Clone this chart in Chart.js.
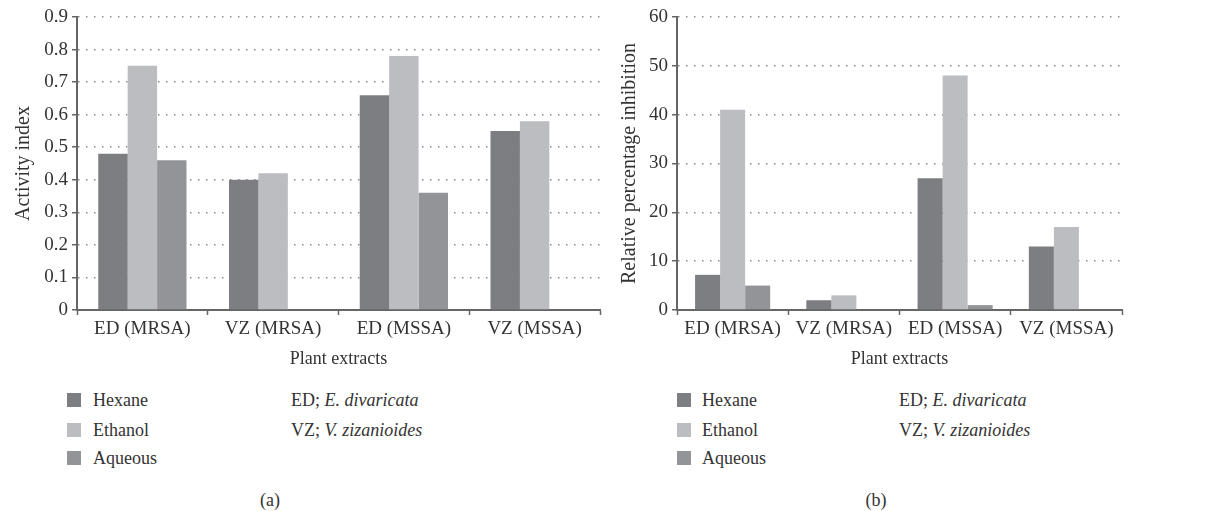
<!DOCTYPE html>
<html>
<head>
<meta charset="utf-8">
<script src="https://cdn.jsdelivr.net/npm/chart.js@4.4.0/dist/chart.umd.min.js"></script>
<style>
  body { margin: 0; background: #fff; width: 1212px; height: 511px; position: relative; overflow: hidden;
         font-family: "Liberation Serif", "DejaVu Serif", serif; color: #333; }
  .wrap { position: absolute; top: 0; width: 606px; height: 370px; }
  .legend { position: absolute; font-size: 18px; }
  .row { position: absolute; white-space: nowrap; line-height: 20px; }
  .box { position: absolute; width: 14px; height: 14px; }
  .caption { position: absolute; top: 490px; font-size: 18px; transform: translateX(-50%); }
</style>
</head>
<body>
<div class="wrap" style="left:0"><canvas id="activityChart"></canvas></div>
<div class="wrap" style="left:606px"><canvas id="inhibitionChart"></canvas></div>
<div id="legendA" class="legend"></div>
<div id="legendB" class="legend"></div>
<div class="caption" style="left:270px">(a)</div>
<div class="caption" style="left:876px">(b)</div>
<script>
const categories = ["ED (MRSA)", "VZ (MRSA)", "ED (MSSA)", "VZ (MSSA)"];
const seriesNames = ["Hexane", "Ethanol", "Aqueous"];
const seriesColors = ["#7d7e82", "#bcbdc1", "#939498"];

// activity index (a)
const hexaneIndex = [0.48, 0.40, 0.66, 0.55];
const ethanolIndex = [0.75, 0.42, 0.78, 0.58];
const aqueousIndex = [0.46, 0, 0.36, 0];

// relative percentage inhibition (b)
const hexaneInhibition = [7.2, 2, 27, 13];
const ethanolInhibition = [41, 3, 48, 17];
const aqueousInhibition = [5, 0, 1, 0];

const notes = [["ED; ", "E. divaricata"], ["VZ; ", "V. zizanioides"]];

const FONT = "Liberation Serif";
const TEXT = "#333";
const AXIS = "#666";

function makeChart(id, series, yMax, yStep, yTitle, axisWidth, padRight) {
  const ctx = document.getElementById(id).getContext("2d");
  new Chart(ctx, {
    type: "bar",
    data: {
      labels: categories,
      datasets: series.map((d, i) => ({
        label: seriesNames[i],
        data: d,
        backgroundColor: seriesColors[i],
        borderWidth: 0,
        barPercentage: 1,
        categoryPercentage: 0.675
      }))
    },
    options: {
      responsive: true,
      maintainAspectRatio: false,
      animation: false,
      layout: { padding: { top: 17, right: padRight, left: 0, bottom: 0 } },
      plugins: {
        legend: { display: false },
        tooltip: { enabled: false }
      },
      scales: {
        x: {
          afterFit: (s) => { s.height = 60; },
          grid: {
            offset: true,
            drawOnChartArea: false,
            drawTicks: true,
            tickLength: 5,
            tickColor: AXIS,
            tickWidth: 1.5
          },
          border: { color: AXIS, width: 2 },
          ticks: { color: TEXT, padding: 3, font: { family: FONT, size: 19 } },
          title: {
            display: true,
            text: "Plant extracts",
            color: TEXT,
            padding: { top: 0, bottom: 0 },
            font: { family: FONT, size: 18 }
          }
        },
        y: {
          min: 0,
          max: yMax,
          afterFit: (s) => { s.width = axisWidth; },
          ticks: { stepSize: yStep, color: TEXT, padding: 4, font: { family: FONT, size: 19 } },
          grid: {
            color: "#8a8a8a",
            lineWidth: 1.5,
            tickBorderDash: [],
            tickColor: AXIS,
            tickWidth: 1.5,
            tickLength: 5
          },
          // in v4 the grid line dash comes from border.dash
          border: { color: AXIS, width: 2, dash: [1.5, 6.5] },
          title: {
            display: true,
            text: yTitle,
            color: TEXT,
            padding: { top: 12, bottom: 2 },
            font: { family: FONT, size: 20 }
          }
        }
      }
    }
  });
}

makeChart("activityChart", [hexaneIndex, ethanolIndex, aqueousIndex], 0.9, 0.1, "Activity index", 77, 6);
makeChart("inhibitionChart", [hexaneInhibition, ethanolInhibition, aqueousInhibition], 60, 10, "Relative percentage inhibition", 71, 90);

function buildLegend(id, boxX, textX, noteX) {
  const el = document.getElementById(id);
  const rowsY = [400, 430, 458];
  seriesNames.forEach((name, i) => {
    const box = document.createElement("div");
    box.className = "box";
    box.style.left = boxX + "px";
    box.style.top = (rowsY[i] - 7) + "px";
    box.style.background = seriesColors[i];
    el.appendChild(box);
    const t = document.createElement("div");
    t.className = "row";
    t.style.left = textX + "px";
    t.style.top = (rowsY[i] - 10) + "px";
    t.textContent = name;
    el.appendChild(t);
  });
  notes.forEach((n, i) => {
    const t = document.createElement("div");
    t.className = "row";
    t.style.left = noteX + "px";
    t.style.top = (rowsY[i] - 10) + "px";
    t.innerHTML = n[0] + "<i>" + n[1] + "</i>";
    el.appendChild(t);
  });
}
buildLegend("legendA", 67, 93, 291);
buildLegend("legendB", 677, 702, 899);
</script>
</body>
</html>
